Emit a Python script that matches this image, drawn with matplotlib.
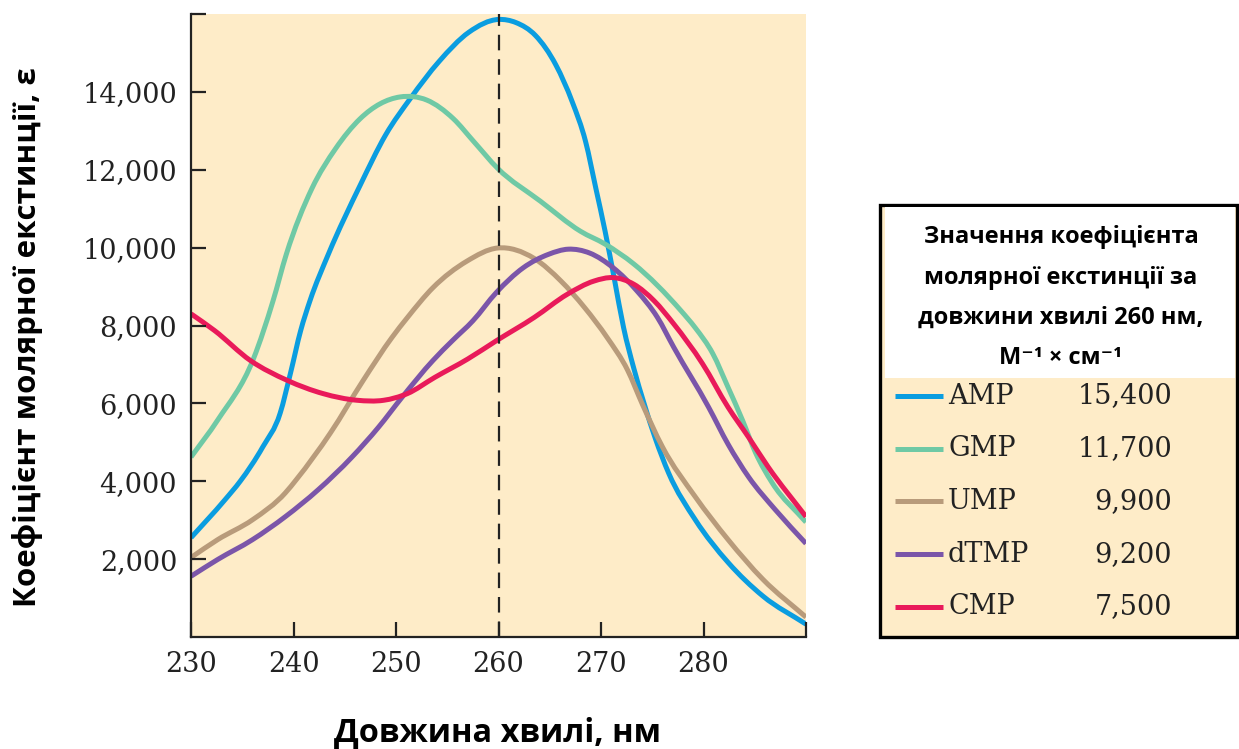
import matplotlib.pyplot as plt
import matplotlib.patches as mpatches
from matplotlib.path import Path
import numpy as np

# wavelength (nm) / molar extinction coefficient
amp_x = [230, 233.3, 234.8, 237.0, 238.7, 239.7, 240.7, 241.6, 243.4, 246.5, 249, 251.4, 254.2, 257.1,
         260, 261.7, 263.6, 265.6, 267.2, 268.5, 269.5, 270.4, 271.3, 272.2, 273.2, 274.2, 275.3,
         276.6, 279.2, 282.4, 285.8, 290]
amp_y = [2550, 3520, 4000, 4880, 5750, 6770, 7870, 8630, 9830, 11600, 12900, 13830, 14780, 15530,
         15860, 15780, 15450, 14690, 13740, 12720, 11520, 10420, 9200, 7950, 6900, 6000, 5100,
         4210, 3010, 1915, 1050, 330]

gmp_x = [230, 232.6, 236.1, 238.0, 239.3, 241.8, 244.1, 246.5, 250.4, 253, 255.6, 257.6,
         259.9, 264.1, 268, 270.4, 273.2, 277.8, 279.2, 280.9, 282.4, 283.8, 285.1, 286.7, 290]
gmp_y = [4620, 5570, 7150, 8630, 9830, 11520, 12540, 13310, 13870, 13790, 13310, 12720,
         12040, 11190, 10420, 10090, 9580, 8380, 7940, 7280, 6410, 5570, 4720, 3960, 2950]

ump_x = [230, 232.6, 236, 239.2, 240.3, 243.6, 246.8, 249.6, 251.1, 253.6, 256.9, 259.9, 263.5,
         266.1, 268.4, 270.6, 272.6, 274, 276, 279.2, 282.4, 285.8, 290]
ump_y = [2040, 2500, 3010, 3700, 4050, 5240, 6590, 7690, 8200, 8970, 9650, 9990, 9720,
         9140, 8460, 7690, 6850, 6000, 4880, 3600, 2500, 1480, 510]

dtmp_x = [230, 232.6, 236, 239.2, 242.4, 245.7, 248.3, 250.6, 253.6, 255.5, 257.5, 259.8, 262.4,
          264.9, 266.8, 268.9, 271.2, 273.5, 275.5, 277.1, 280.5, 282.4, 284.4, 287, 290]
dtmp_y = [1560, 1990, 2500, 3090, 3780, 4620, 5390, 6160, 7100, 7610, 8120, 8850, 9480,
          9830, 9960, 9860, 9480, 8890, 8210, 7440, 5900, 4950, 4110, 3270, 2400]

cmp_x = [230, 232.3, 235.8, 239.4, 242.9, 246.2, 248.8, 251.1, 253.8, 257.0, 259.8, 263.5, 266.7,
         269.3, 271.2, 273.2, 275.2, 277.1, 279.9, 282.4, 284.4, 286.3, 290]
cmp_y = [8300, 7870, 7100, 6590, 6250, 6080, 6080, 6250, 6670, 7140, 7610, 8210, 8800,
         9140, 9230, 9060, 8630, 8040, 7020, 5900, 5130, 4370, 3090]

names = ['AMP', 'GMP', 'UMP', 'dTMP', 'CMP']
eps260 = ['15,400', '11,700', '9,900', '9,200', '7,500']
colors = ['#0a9de0', '#6fc9a5', '#b89b7b', '#7b55a9', '#e91a5a']

xticks = [230, 240, 250, 260, 270, 280, 290]
xticklabels = ['230', '240', '250', '260', '270', '280', '']
yticks = [2000, 4000, 6000, 8000, 10000, 12000, 14000, 16000]
yticklabels = ['2,000', '4,000', '6,000', '8,000', '10,000', '12,000', '14,000', '']

bg = '#feecc8'
ink = '#222222'
serif = 'DejaVu Serif'
sans = ['Open Sans', 'DejaVu Sans']


def smooth_path(x, y):
    # cubic bezier through the read points (hermite, slopes from neighbours)
    x = np.asarray(x, float)
    y = np.asarray(y, float)
    s = np.gradient(y, x)
    verts = [(x[0], y[0])]
    codes = [Path.MOVETO]
    for i in range(len(x) - 1):
        h = (x[i + 1] - x[i]) / 3
        verts += [(x[i] + h, y[i] + s[i] * h), (x[i + 1] - h, y[i + 1] - s[i + 1] * h), (x[i + 1], y[i + 1])]
        codes += [Path.CURVE4] * 3
    return Path(verts, codes)


fig = plt.figure(figsize=(12.39, 7.49), dpi=100)
ax = fig.add_axes([191 / 1239, 1 - 637 / 749, 615 / 1239, 623 / 749])
ax.set_facecolor(bg)

series = [(amp_x, amp_y), (gmp_x, gmp_y), (ump_x, ump_y), (dtmp_x, dtmp_y), (cmp_x, cmp_y)]
for (x, y), c in zip(series, colors):
    ax.add_patch(mpatches.PathPatch(smooth_path(x, y), fill=False, edgecolor=c, lw=3.6,
                                    capstyle='butt', joinstyle='round'))

ax.axvline(260, color=ink, lw=1.6, ls=(0, (7, 4)))

ax.set_xlim(230, 290)
ax.set_ylim(0, 16000)
ax.set_xticks(xticks)
ax.set_xticklabels(xticklabels)
ax.set_yticks(yticks)
ax.set_yticklabels(yticklabels)
for s in ['top', 'right']:
    ax.spines[s].set_visible(False)
for s in ['left', 'bottom']:
    ax.spines[s].set_linewidth(1.6)
    ax.spines[s].set_color(ink)
ax.tick_params(direction='in', length=11, width=1.6, color=ink, labelsize=19.5, pad=10)
for lab in ax.get_xticklabels() + ax.get_yticklabels():
    lab.set_family(serif)
    lab.set_color(ink)

ax.set_ylabel('Коефіцієнт молярної екстинції, ε', family=sans, fontweight='bold', fontsize=22.5)
ax.yaxis.set_label_coords(-0.24, 0.4815)
ax.set_xlabel('Довжина хвилі, нм', family=sans, fontweight='bold', fontsize=23.4)
ax.xaxis.set_label_coords(0.4976, -0.128)

# table-style legend on the right, in pixel coordinates
lg = fig.add_axes([0, 0, 1, 1], zorder=5)
lg.set_xlim(0, 1239)
lg.set_ylim(749, 0)
lg.axis('off')
lg.add_patch(mpatches.Rectangle((880, 205), 357, 432, facecolor=bg, edgecolor='black', lw=2.4))
lg.add_patch(mpatches.Rectangle((885, 207), 350, 171, facecolor='white', edgecolor='none'))

title_lines = ['Значення коефіцієнта', 'молярної екстинції за', 'довжини хвилі 260 нм,', 'М⁻¹ × см⁻¹']
for i, t in enumerate(title_lines):
    lg.text(1061, 237 + i * 40.5, t, ha='center', va='center', family=sans,
            fontweight='bold', fontsize=17)

for i, (n, v, c) in enumerate(zip(names, eps260, colors)):
    yy = 396 + i * 52.7
    lg.plot([895, 943], [yy, yy], color=c, lw=3.6, solid_capstyle='butt')
    lg.text(948, yy, n, ha='left', va='center', family=serif, fontsize=19.5, color=ink)
    lg.text(1172, yy, v, ha='right', va='center', family=serif, fontsize=19.5, color=ink)

fig.savefig('out.png', dpi=100)
